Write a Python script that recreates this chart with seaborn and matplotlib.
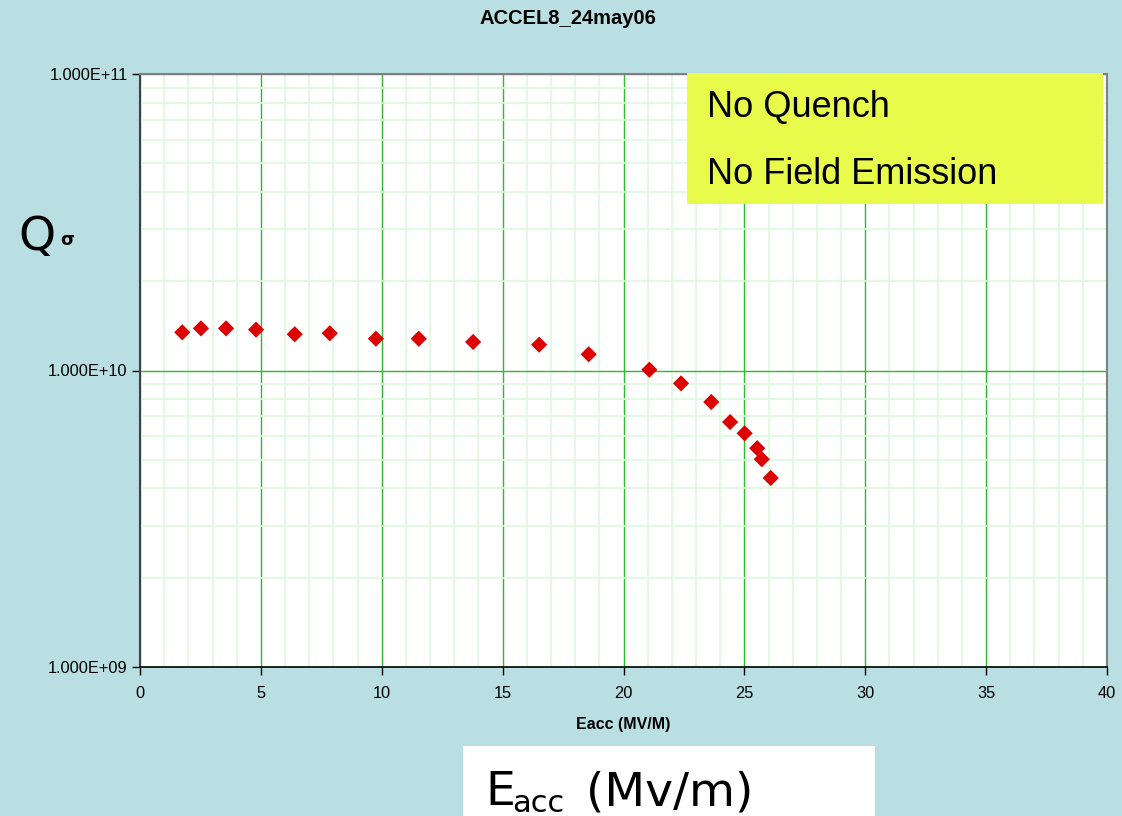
import numpy as np
import matplotlib
matplotlib.use("Agg")
import matplotlib.pyplot as plt
import matplotlib.ticker as mticker
from matplotlib.patches import Rectangle
import seaborn as sns
import pandas as pd

# Accelerating gradient (MV/m) and quality factor Q0
eacc = [1.75, 2.52, 3.56, 4.80, 6.40, 7.85, 9.76, 11.53, 13.78, 16.51, 18.56,
        21.07, 22.38, 23.63, 24.41, 25.01, 25.53, 25.72, 26.09]
q0 = [1.345e10, 1.387e10, 1.387e10, 1.373e10, 1.325e10, 1.335e10, 1.28e10,
      1.28e10, 1.248e10, 1.222e10, 1.134e10, 1.006e10, 9.05e9, 7.83e9,
      6.70e9, 6.14e9, 5.47e9, 5.02e9, 4.34e9]

title = "ACCEL8_24may06"
xlabel = "Eacc (MV/M)"
notes = ["No Quench", "No Field Emission"]

bg = "#B9DFE2"
sns.set_style("white")
plt.rcParams["font.family"] = ["Liberation Sans", "DejaVu Sans"]
plt.rcParams["text.color"] = "black"
plt.rcParams["axes.labelcolor"] = "black"
plt.rcParams["xtick.color"] = "black"
plt.rcParams["ytick.color"] = "black"

fig = plt.figure(figsize=(11.22, 8.16), dpi=100, facecolor=bg)
ax = fig.add_axes([140 / 1122, 1 - 667 / 816, (1107 - 140) / 1122, (667 - 74) / 816])
ax.set_facecolor("white")

df = pd.DataFrame({"Eacc": eacc, "Q0": q0})
sns.scatterplot(data=df, x="Eacc", y="Q0", marker="D", color="#DD0000",
                s=68, edgecolor="none", ax=ax, zorder=5)

ax.set_yscale("log")
ax.set_xlim(0, 40)
ax.set_ylim(1e9, 1e11)

ax.xaxis.set_major_locator(mticker.MultipleLocator(5))
ax.xaxis.set_minor_locator(mticker.MultipleLocator(1))
ax.yaxis.set_major_locator(mticker.LogLocator(base=10, numticks=5))
ax.yaxis.set_minor_locator(mticker.LogLocator(base=10, subs=np.arange(2, 10), numticks=20))
ax.yaxis.set_major_formatter(mticker.FuncFormatter(
    lambda v, p: "{:.3E}".format(v)))
ax.yaxis.set_minor_formatter(mticker.NullFormatter())

ax.grid(which="minor", color="#DDFADD", linewidth=1.2, zorder=0)
ax.grid(which="major", color="#2DBB2D", linewidth=1.0, zorder=1)
ax.set_axisbelow(True)

ax.tick_params(axis="both", which="major", direction="out", length=6, width=1,
               color="black", labelcolor="black", labelsize=11.8, pad=3,
               bottom=True, left=True)
ax.tick_params(axis="x", which="major", pad=8)
ax.tick_params(axis="both", which="minor", length=0)

for side in ["top", "right"]:
    ax.spines[side].set_color("#808080")
    ax.spines[side].set_linewidth(1.5)
ax.spines["left"].set_color("#404040")
ax.spines["left"].set_linewidth(1.5)
ax.spines["bottom"].set_color("black")
ax.spines["bottom"].set_linewidth(1.2)

ax.set_xlabel(xlabel, fontsize=11.5, fontweight="bold", labelpad=11, color="black")
ax.set_ylabel("")

fig.text(568 / 1122, 1 - 18 / 816, title, fontsize=14.5,
         fontweight="bold", ha="center", va="center", color="black")

# Annotation box in the upper right
fig.add_artist(Rectangle((687 / 1122, 1 - 204 / 816), (1103 - 687) / 1122,
                         (204 - 73) / 816, transform=fig.transFigure,
                         facecolor="#E8FA4A", edgecolor="none", zorder=10))
fig.text(707 / 1122, 1 - 108 / 816, notes[0], fontsize=26, va="center",
         ha="left", zorder=11, color="black")
fig.text(707 / 1122, 1 - 175 / 816, notes[1], fontsize=26, va="center",
         ha="left", zorder=11, color="black")

# Large axis captions
fig.text(18 / 1122, 1 - 250 / 816, "Q", fontsize=34, family="DejaVu Sans",
         va="baseline", ha="left", color="black")
fig.text(60 / 1122, 1 - 245 / 816, "σ", fontsize=13, family="DejaVu Sans",
         fontweight="bold", va="baseline", ha="left", color="black")

fig.add_artist(Rectangle((463 / 1122, 0), (875 - 463) / 1122, (816 - 746) / 816,
                         transform=fig.transFigure, facecolor="white",
                         edgecolor="none", zorder=10))
fig.text(485 / 1122, 1 - 805 / 816, "E", fontsize=34,
         family="DejaVu Sans", va="baseline", ha="left", zorder=11, color="black")
fig.text(512 / 1122, 1 - 812 / 816, "acc", fontsize=22,
         family="DejaVu Sans", va="baseline", ha="left", zorder=11, color="black")
fig.text(586 / 1122, 1 - 805 / 816, "(Mv/m)", fontsize=34,
         family="DejaVu Sans", va="baseline", ha="left", zorder=11, color="black")

fig.savefig("out.png", dpi=100, facecolor=bg)
